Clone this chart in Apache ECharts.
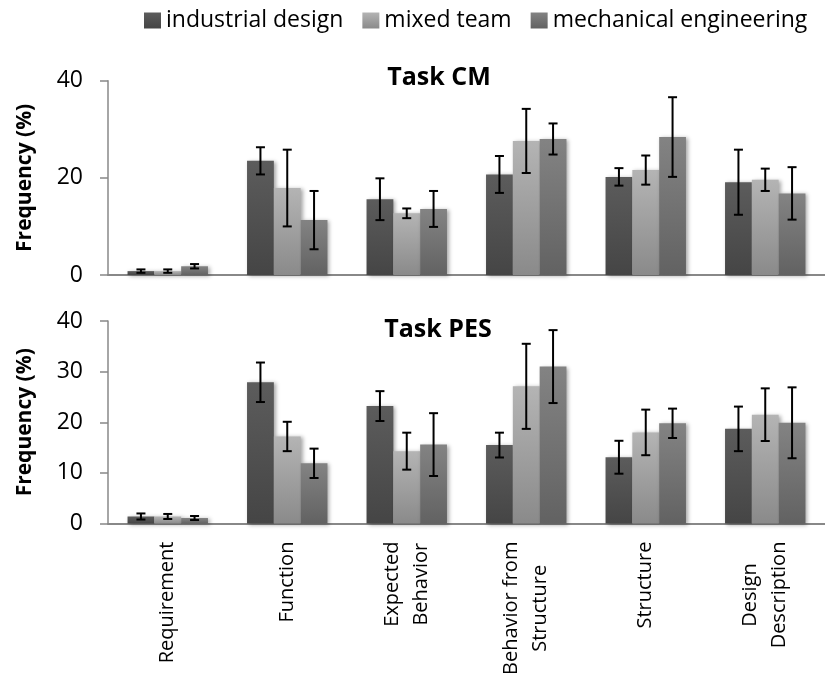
<!DOCTYPE html>
<html><head><meta charset="utf-8">
<script src="https://cdn.jsdelivr.net/npm/echarts@6/dist/echarts.min.js"></script>
<style>html,body{margin:0;padding:0;background:#fff}#c{width:825px;height:678px}</style>
</head><body><div id="c"></div>
<script>
const categories = ['Requirement', 'Function', 'Expected\nBehavior', 'Behavior from\nStructure', 'Structure', 'Design\nDescription'];
const seriesNames = ['industrial design', 'mixed team', 'mechanical engineering'];

const cmIndustrial = [0.8, 23.5, 15.6, 20.7, 20.2, 19.1];
const cmMixed = [0.8, 17.9, 12.7, 27.6, 21.6, 19.6];
const cmMechanical = [1.8, 11.3, 13.6, 28.0, 28.4, 16.8];
const cmIndustrialErr = [0.35, 2.8, 4.3, 3.8, 1.8, 6.7];
const cmMixedErr = [0.35, 7.9, 1.0, 6.6, 3.0, 2.3];
const cmMechanicalErr = [0.45, 6.0, 3.7, 3.2, 8.2, 5.4];

const pesIndustrial = [1.4, 27.9, 23.2, 15.5, 13.1, 18.7];
const pesMixed = [1.4, 17.2, 14.3, 27.1, 18.0, 21.5];
const pesMechanical = [1.1, 11.9, 15.6, 31.0, 19.8, 19.9];
const pesIndustrialErr = [0.6, 3.9, 2.95, 2.45, 3.25, 4.4];
const pesMixedErr = [0.5, 2.9, 3.65, 8.4, 4.5, 5.2];
const pesMechanicalErr = [0.4, 2.9, 6.2, 7.2, 2.9, 7.0];

const cmTicks = [0, 20, 40];
const pesTicks = [0, 10, 20, 30, 40];
const titles = ['Task CM', 'Task PES'];
const yAxisName = 'Frequency (%)';

const FONT = "'Open Sans', sans-serif";
const gradients = [['#5c5c5c', '#454545'], ['#b4b4b4', '#8a8a8a'], ['#838383', '#626262']];
const GAP = 0.327;

function grad(i) {
  return {type: 'linear', x: 0, y: 0, x2: 0, y2: 1,
    colorStops: [{offset: 0, color: gradients[i][0]}, {offset: 1, color: gradients[i][1]}]};
}

const panels = [
  {vals: [cmIndustrial, cmMixed, cmMechanical], errs: [cmIndustrialErr, cmMixedErr, cmMechanicalErr], ticks: cmTicks},
  {vals: [pesIndustrial, pesMixed, pesMechanical], errs: [pesIndustrialErr, pesMixedErr, pesMechanicalErr], ticks: pesTicks}
];

const series = [];
panels.forEach((p, g) => {
  p.vals.forEach((v, k) => {
    series.push({
      name: seriesNames[k], type: 'bar', xAxisIndex: g, yAxisIndex: g,
      data: v, barGap: '0%', barCategoryGap: (GAP * 100) + '%',
      itemStyle: {color: grad(k), shadowBlur: 4, shadowColor: 'rgba(0,0,0,0.35)', shadowOffsetX: 2, shadowOffsetY: 1},
      emphasis: {disabled: true}, z: 2
    });
  });
  p.vals.forEach((v, k) => {
    series.push({
      type: 'custom', xAxisIndex: g, yAxisIndex: g, z: 5, silent: true,
      data: v.map((val, i) => [i, val, p.errs[k][i]]),
      encode: {x: 0, y: 1},
      renderItem: function (params, api) {
        const idx = api.value(0), val = api.value(1), err = api.value(2);
        const band = api.size([1, 0])[0];
        const bw = band * (1 - GAP) / 3;
        const c = api.coord([idx, val]);
        const x = c[0] + (k - 1) * bw;
        const top = api.coord([idx, val + err])[1];
        const bot = api.coord([idx, val - err])[1];
        const hw = 4.5;
        const st = {stroke: '#000', lineWidth: 2};
        return {type: 'group', children: [
          {type: 'line', shape: {x1: x, y1: top, x2: x, y2: bot}, style: st},
          {type: 'line', shape: {x1: x - hw, y1: top, x2: x + hw, y2: top}, style: st},
          {type: 'line', shape: {x1: x - hw, y1: bot, x2: x + hw, y2: bot}, style: st}
        ]};
      }
    });
  });
});

const grids = [
  {left: 108, width: 722, top: 80.7, height: 194.3},
  {left: 108, width: 722, top: 321, height: 203.3}
];

const xAxes = grids.map((gr, g) => ({
  gridIndex: g, type: 'category', data: categories,
  axisLine: {lineStyle: {color: '#888', width: 2}},
  axisTick: {show: false},
  axisLabel: g === 0 ? {show: false} : {
    show: true, interval: 0, rotate: 90, margin: 18, color: '#000',
    formatter: v => v.split('\n').map(l => '{c|' + l + '}').join('\n'),
    rich: {c: {align: 'center', fontSize: 20, lineHeight: 29, fontFamily: FONT, color: '#000'}}
  }
}));

const yAxes = panels.map((p, g) => ({
  gridIndex: g, type: 'value',
  min: p.ticks[0], max: p.ticks[p.ticks.length - 1], interval: p.ticks[1] - p.ticks[0],
  axisLine: {show: true, lineStyle: {color: '#888', width: 1.5}},
  axisTick: {show: true, length: 8, lineStyle: {color: '#888', width: 1.5}},
  splitLine: {show: false},
  axisLabel: {fontSize: 23, color: '#000', margin: 25, fontFamily: FONT},
  name: yAxisName, nameLocation: 'middle', nameGap: 72, nameRotate: 90,
  nameTextStyle: {fontSize: 21, fontWeight: 'bold', color: '#000', fontFamily: FONT}
}));

const chart = echarts.init(document.getElementById('c'), null, {renderer: 'canvas'});
chart.setOption({
  animation: false,
  backgroundColor: '#fff',
  title: [
    {text: titles[0], left: 434, top: 60, textAlign: 'center', textStyle: {fontSize: 25, fontWeight: 'bold', color: '#000', fontFamily: FONT}},
    {text: titles[1], left: 433, top: 312, textAlign: 'center', textStyle: {fontSize: 25, fontWeight: 'bold', color: '#000', fontFamily: FONT}}
  ],
  legend: {
    data: seriesNames, top: 4, left: 139, icon: 'rect', itemWidth: 17, itemHeight: 16, itemGap: 19,
    textStyle: {fontSize: 23, color: '#000', fontFamily: FONT}, selectedMode: false
  },
  grid: grids, xAxis: xAxes, yAxis: yAxes, series: series
});
</script></body></html>
